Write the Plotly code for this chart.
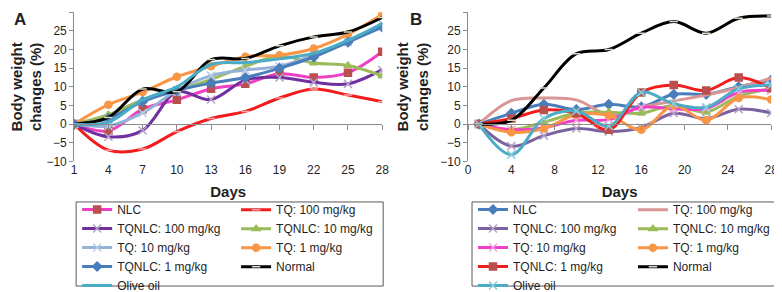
import plotly.graph_objects as go

# ---------------- data ----------------
days_a = [1, 4, 7, 10, 13, 16, 19, 22, 25, 28]
days_b = [1, 4, 7, 10, 13, 16, 19, 22, 25, 28]

series_names = ["NLC", "TQ: 100 mg/kg", "TQNLC: 100 mg/kg", "TQNLC: 10 mg/kg",
                "TQ: 10 mg/kg", "TQ: 1 mg/kg", "TQNLC: 1 mg/kg", "Normal", "Olive oil"]

# Panel A values (%)
a_nlc      = [0, -1.8, 4.0, 6.5, 9.5, 10.8, 13.5, 12.5, 13.8, 19.4]
a_tq100    = [0, -7.0, -6.7, -2.0, 1.5, 3.4, 7.0, 9.4, 7.8, 6.0]
a_tqnlc100 = [0, -3.4, -1.7, 8.6, 6.6, 11.8, 12.5, 11.2, 10.8, 14.6]
a_tqnlc10  = [0, 2.5, 6.5, 9.0, 12.0, 15.5, 18.3, 16.4, 15.7, 12.9]
a_tq10     = [0, -0.5, 3.0, 9.0, 13.0, 14.5, 15.5, 18.5, 22.0, 27.0]
a_tq1      = [0, 5.2, 8.6, 12.7, 15.5, 18.1, 18.5, 20.3, 24.1, 29.4]
a_tqnlc1   = [0, 1.5, 6.0, 9.0, 11.0, 12.5, 15.0, 18.0, 22.0, 26.0]
a_normal   = [0, 1.8, 9.4, 8.7, 17.3, 17.6, 21.0, 23.4, 24.7, 28.6]
a_olive    = [0, 0.5, 6.5, 10.0, 16.0, 16.5, 17.5, 19.0, 22.5, 27.0]

# Panel B values (%)
b_nlc      = [0, 2.9, 5.3, 3.9, 5.3, 4.6, 8.0, 8.0, 10.0, 11.8]
b_tq100    = [0, 6.3, 7.0, 6.5, 2.5, 4.5, 6.2, 7.8, 9.8, 12.3]
b_tqnlc100 = [0, -5.9, -3.1, -1.2, -2.0, -0.9, 2.9, 1.5, 4.0, 3.0]
b_tqnlc10  = [0, -1.5, 0.5, 2.9, 3.2, 2.9, 5.0, 3.2, 7.5, 9.5]
b_tq10     = [0, -1.5, -1.0, 1.0, 1.2, 4.5, 4.1, 4.2, 8.5, 9.0]
b_tq1      = [0, -2.2, -1.2, 2.5, 2.3, -1.5, 5.0, 1.0, 7.0, 6.6]
b_tqnlc1   = [0, 1.5, 3.8, 2.9, -1.5, 8.5, 10.5, 9.0, 12.5, 9.6]
b_normal   = [0, 1.0, 9.7, 18.9, 20.0, 24.4, 27.5, 24.4, 28.4, 29.0]
b_olive    = [0, -8.2, 1.5, 3.5, -0.5, 8.5, 5.5, 4.5, 9.5, 10.5]

y_ticks = [-10, -5, 0, 5, 10, 15, 20, 25, 30]
xb_ticks = [0, 4, 8, 12, 16, 20, 24, 28]

a_values = [a_nlc, a_tq100, a_tqnlc100, a_tqnlc10, a_tq10, a_tq1, a_tqnlc1, a_normal, a_olive]
b_values = [b_nlc, b_tq100, b_tqnlc100, b_tqnlc10, b_tq10, b_tq1, b_tqnlc1, b_normal, b_olive]

# ---------------- styles ----------------
a_styles = [
    dict(line="#F03FC4", mcol="#B9504F", sym="square", size=7),
    dict(line="#F21C1C", mcol="#F6A6A6", sym="line-ew-open", size=6),
    dict(line="#7030A0", mcol="#B3A2C7", sym="x-thin-open", size=8),
    dict(line="#9BBB59", mcol="#9BBB59", sym="triangle-up", size=7),
    dict(line="#95B3D7", mcol="#B7CBE4", sym="x-thin-open", size=8),
    dict(line="#F79646", mcol="#F79646", sym="circle", size=7),
    dict(line="#4A7EBB", mcol="#4A7EBB", sym="diamond", size=7),
    dict(line="#000000", mcol="#D6DCC4", sym="line-ew-open", size=6),
    dict(line="#4BACC6", mcol="#4BACC6", sym="line-ew-open", size=5),
]
b_styles = [
    dict(line="#4A7EBB", mcol="#4A7EBB", sym="diamond", size=7),
    dict(line="#D99694", mcol="#D99694", sym="line-ew-open", size=1),
    dict(line="#7A62A0", mcol="#B3A2C7", sym="x-thin-open", size=8),
    dict(line="#9BBB59", mcol="#9BBB59", sym="triangle-up", size=7),
    dict(line="#F23FC8", mcol="#F5A3E0", sym="x-thin-open", size=8),
    dict(line="#F79646", mcol="#F79646", sym="circle", size=7),
    dict(line="#F21C1C", mcol="#B9504F", sym="square", size=7),
    dict(line="#000000", mcol="#D6DCC4", sym="line-ew-open", size=6),
    dict(line="#4BACC6", mcol="#8CCBDB", sym="x-thin-open", size=8),
]

col1 = {0, 2, 4, 6, 8}

fig = go.Figure()


def add_panel(days, values, styles, xa, ya, leg1, leg2):
    for i, (name, vals, st) in enumerate(zip(series_names, values, styles)):
        fig.add_trace(go.Scatter(
            x=days, y=vals, name=name, mode="lines+markers",
            xaxis=xa, yaxis=ya,
            legend=leg1 if i in col1 else leg2,
            line=dict(color=st["line"], width=3, shape="spline", smoothing=1.0),
            marker=dict(symbol=st["sym"], size=st["size"], color=st["mcol"],
                        line=dict(color=st["mcol"], width=1.5)),
        ))


add_panel(days_a, a_values, a_styles, "x", "y", "legend", "legend2")
add_panel(days_b, b_values, b_styles, "x2", "y2", "legend3", "legend4")

# invisible helper traces so the zero-line tick axes exist
fig.add_trace(go.Scatter(x=[], y=[], xaxis="x3", yaxis="y", showlegend=False, hoverinfo="skip"))
fig.add_trace(go.Scatter(x=[], y=[], xaxis="x4", yaxis="y2", showlegend=False, hoverinfo="skip"))

H = 292.0
W = 782.0
y_dom = [1 - 160.5 / H, 1 - 4.5 / H]
zero_pos = y_dom[0] + 0.25 * (y_dom[1] - y_dom[0])
xa_dom = [64 / W, 376 / W]
xb_dom = [463 / W, 770 / W]

FONT = "Liberation Sans, Arial, sans-serif"
TXT = "#1f1f1f"
AX = "#8c8c8c"

common_x = dict(showgrid=False, zeroline=False, showline=False, ticks="",
                tickfont=dict(family=FONT, size=12, color=TXT),
                title=dict(text="<b>Days</b>", font=dict(family=FONT, size=15, color=TXT), standoff=10))
common_y = dict(range=[-10, 30], tickvals=y_ticks, showgrid=False, zeroline=False,
                showline=True, linecolor=AX, linewidth=1, ticks="outside", ticklen=4,
                tickcolor=AX, tickfont=dict(family=FONT, size=12, color=TXT),
                title=dict(text="<b>Body weight<br>changes (%)</b>",
                           font=dict(family=FONT, size=15, color=TXT), standoff=8))
zero_x = dict(showgrid=False, zeroline=False, showline=True, linecolor=AX, linewidth=1,
              ticks="outside", ticklen=5, tickcolor=AX, showticklabels=False,
              anchor="free", position=zero_pos)

fig.update_layout(
    width=782, height=292,
    margin=dict(l=0, r=0, t=0, b=0),
    paper_bgcolor="white", plot_bgcolor="white",
    showlegend=True,
    xaxis=dict(domain=xa_dom, range=[1, 28], tickvals=days_a, anchor="y", **common_x),
    yaxis=dict(domain=y_dom, anchor="x", **common_y),
    xaxis2=dict(domain=xb_dom, range=[0, 28], tickvals=xb_ticks, anchor="y2", **common_x),
    yaxis2=dict(domain=y_dom, anchor="x2", **common_y),
    xaxis3=dict(overlaying="x", range=[1, 28], tickvals=days_a, **zero_x),
    xaxis4=dict(overlaying="x2", range=[0, 28], tickvals=xb_ticks, **zero_x),
)

leg_font = dict(family=FONT, size=12, color=TXT)
leg_y = 1 - 196 / H
for key, xpx in [("legend", 67), ("legend2", 228), ("legend3", 468), ("legend4", 630)]:
    fig.update_layout(**{key: dict(x=xpx / W, y=leg_y, xanchor="left", yanchor="top",
                                   orientation="v", font=leg_font, bgcolor="rgba(0,0,0,0)",
                                   borderwidth=0, traceorder="normal")})

# legend frames
for x0, x1 in [(66, 377), (467, 776)]:
    fig.add_shape(type="rect", xref="paper", yref="paper",
                  x0=x0 / W, x1=x1 / W, y0=1 - 291 / H, y1=1 - 203 / H,
                  line=dict(color="#595959", width=1), fillcolor="rgba(0,0,0,0)")

# panel letters
for txt, xpx in [("A", 1), ("B", 402)]:
    fig.add_annotation(text=f"<b>{txt}</b>", xref="paper", yref="paper",
                       x=xpx / W, y=1.0, xanchor="left", yanchor="top", showarrow=False,
                       font=dict(family=FONT, size=17, color=TXT))

fig.write_html("out.html")
